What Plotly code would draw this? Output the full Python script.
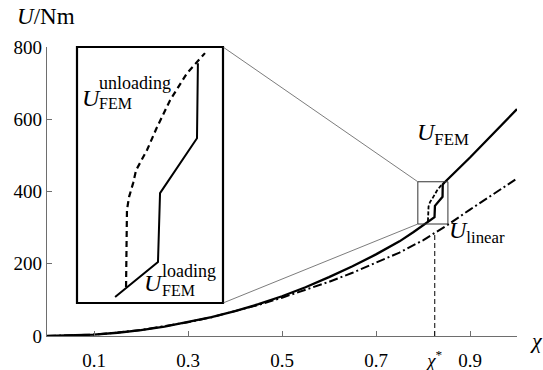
import plotly.graph_objects as go
import numpy as np

# ---------------- data ----------------
chi_pre = [0, 0.05, 0.1, 0.15, 0.2, 0.25, 0.3, 0.35, 0.4, 0.45, 0.5, 0.55, 0.6, 0.65, 0.7, 0.75, 0.78]
U_fem_pre = [0, 1, 4, 9, 16, 26, 38, 52, 69, 88, 110, 135, 163, 193, 226, 262, 288]

chi_load = [0.8057, 0.8245, 0.8254, 0.8416, 0.8420]
U_load = [312.7, 328.7, 360.2, 385.3, 419.6]

chi_unload = [0.8105, 0.8109, 0.8118, 0.8136, 0.8149, 0.8197, 0.8241, 0.8298, 0.8372, 0.8451]
U_unload = [317.3, 352.5, 358.4, 364.8, 370.7, 379.9, 390.4, 402.7, 415.0, 424.2]

chi_post = [0.8451, 0.9, 0.95, 1.0]
U_fem_post = [424.2, 494, 560, 628]

chi_lin = [0, 0.05, 0.1, 0.15, 0.2, 0.25, 0.3, 0.35, 0.4, 0.45, 0.5, 0.55, 0.6, 0.65, 0.7, 0.75, 0.8, 0.853, 0.9, 0.95, 1.0]
U_lin = [0, 1, 4, 9.5, 17, 27, 38, 52, 68, 86, 106, 127, 150, 175, 202, 231, 265, 308, 350, 392, 436]

chi_star = 0.825
zoom_x = [0.789, 0.853]
zoom_y = [310, 427]

xtick_vals = [0.1, 0.3, 0.5, 0.7, 0.9]
xtick_text = ["0.1", "0.3", "0.5", "0.7", "0.9"]
ytick_vals = [0, 200, 400, 600, 800]
ytick_text = ["0", "200", "400", "600", "800"]

# ---------------- layout helpers ----------------
W, H = 543, 370
ML, MR, MT, MB = 47, 26, 47, 34
PW, PH = W - ML - MR, H - MT - MB
FONT = "Liberation Serif"


def px(xp, yp):
    return (xp - ML) / PW, (H - MB - yp) / PH


inset_dom_x = [px(77, 0)[0], px(223, 0)[0]]
inset_dom_y = [px(0, 303)[1], px(0, 47)[1]]

chi_fem = chi_pre + chi_load + chi_post
U_fem = U_fem_pre + U_load + U_fem_post

fig = go.Figure()
black = "#000000"

# main plot
fig.add_trace(go.Scatter(x=chi_lin, y=U_lin, mode="lines",
                         line=dict(color=black, width=2, dash="9px,3px,2px,3px"),
                         xaxis="x", yaxis="y", hoverinfo="skip"))
fig.add_trace(go.Scatter(x=chi_fem, y=U_fem, mode="lines",
                         line=dict(color=black, width=2.3),
                         xaxis="x", yaxis="y", hoverinfo="skip"))
fig.add_trace(go.Scatter(x=chi_unload, y=U_unload, mode="lines",
                         line=dict(color=black, width=1.8, dash="4px,2px"),
                         xaxis="x", yaxis="y", hoverinfo="skip"))

# inset
fig.add_trace(go.Scatter(x=chi_load, y=U_load, mode="lines",
                         line=dict(color=black, width=2),
                         xaxis="x2", yaxis="y2", hoverinfo="skip"))
fig.add_trace(go.Scatter(x=chi_unload, y=U_unload, mode="lines",
                         line=dict(color=black, width=2.2, dash="6px,4px"),
                         xaxis="x2", yaxis="y2", hoverinfo="skip"))

axis_col = "#6e6e6e"
fig.update_layout(
    template="none",
    width=W, height=H,
    margin=dict(l=ML, r=MR, t=MT, b=MB, autoexpand=False),
    paper_bgcolor="white", plot_bgcolor="white",
    showlegend=False,
    font=dict(family=FONT, size=19, color=black),
    xaxis=dict(domain=[0, 1], range=[0, 1], showgrid=False, zeroline=False,
               automargin=False,
               showline=True, linecolor=axis_col, linewidth=1.2,
               ticks="inside", ticklen=5, tickcolor=axis_col, tickwidth=1,
               ticklabelstandoff=7,
               tickvals=xtick_vals + [chi_star],
               ticktext=xtick_text + ["<i>χ</i><sup>*</sup>"],
               tickfont=dict(family=FONT, size=19, color=black)),
    yaxis=dict(domain=[0, 1], range=[0, 800], showgrid=False, zeroline=False,
               automargin=False,
               showline=True, linecolor=axis_col, linewidth=1.2,
               ticks="inside", ticklen=5, tickcolor=axis_col, tickwidth=1,
               tickvals=ytick_vals, ticktext=ytick_text,
               tickfont=dict(family=FONT, size=19, color=black)),
    xaxis2=dict(domain=inset_dom_x, range=zoom_x, anchor="y2", visible=False),
    yaxis2=dict(domain=inset_dom_y, range=zoom_y, anchor="x2", visible=False),
)

# inset box + zoom rectangle + connectors
U_star = float(np.interp(chi_star, chi_lin, U_lin))
ix1 = inset_dom_x[1] * 1.0
iy0 = inset_dom_y[0] * 800
iy1 = inset_dom_y[1] * 800
shapes = [
    dict(type="rect", xref="x2 domain", yref="y2 domain", x0=0, x1=1, y0=0, y1=1,
         line=dict(color=black, width=2.2)),
    dict(type="rect", xref="x", yref="y", x0=zoom_x[0], x1=zoom_x[1], y0=zoom_y[0], y1=zoom_y[1],
         line=dict(color="#333333", width=1)),
    dict(type="line", xref="x", yref="y", x0=ix1, y0=iy1, x1=zoom_x[0], y1=zoom_y[1],
         line=dict(color="#444444", width=0.7)),
    dict(type="line", xref="x", yref="y", x0=ix1, y0=iy0, x1=zoom_x[0], y1=zoom_y[0],
         line=dict(color="#444444", width=0.7)),
    dict(type="line", xref="x", yref="y", x0=chi_star, y0=0, x1=chi_star, y1=U_star,
         line=dict(color=black, width=1, dash="5px,3px")),
]
fig.update_layout(shapes=shapes)


def ann(xp, yp, text, size, xanchor="center", yanchor="middle"):
    x, y = px(xp, yp)
    return dict(x=x, y=y, xref="paper", yref="paper", text=text, showarrow=False,
                xanchor=xanchor, yanchor=yanchor, borderpad=0, borderwidth=0,
                font=dict(family=FONT, size=size, color=black))


annotations = [
    ann(17, 17, "<i>U</i>/Nm", 23, xanchor="left"),
    ann(536, 340, "<i>χ</i>", 22, xanchor="center"),
    # U_FEM
    ann(417, 134, "<i>U</i><sub>FEM</sub>", 24, xanchor="left"),
    # U_linear
    ann(449, 232, "<i>U</i><sub>linear</sub>", 24, xanchor="left"),
    # inset labels
    ann(82, 98, "<i>U</i>", 24, xanchor="left"),
    ann(99, 83, "unloading", 18, xanchor="left"),
    ann(99, 103, "FEM", 16, xanchor="left"),
    ann(144, 283, "<i>U</i>", 24, xanchor="left"),
    ann(162, 271, "loading", 18, xanchor="left"),
    ann(162, 290, "FEM", 16, xanchor="left"),
]
fig.update_layout(annotations=annotations)

fig.write_html("out.html",
               config={"displayModeBar": False},
               post_script="document.body.style.margin='0';document.body.style.padding='0';")
